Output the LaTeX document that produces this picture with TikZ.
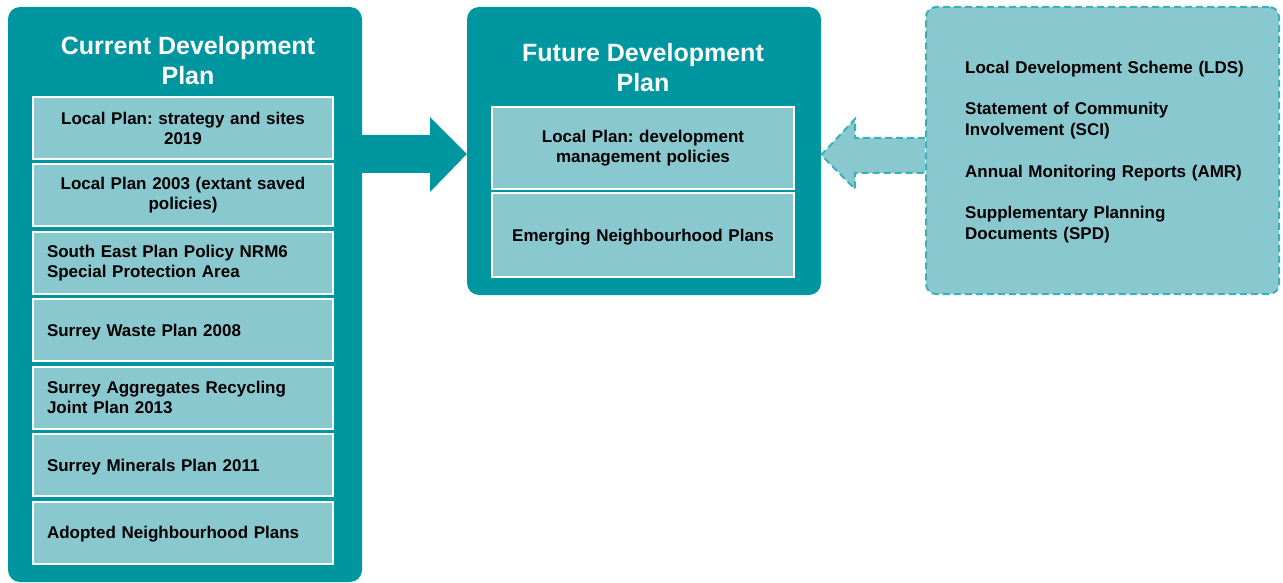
\documentclass[tikz,border=0pt]{standalone}
\usepackage{fontspec}
\setmainfont{Liberation Sans}
\frenchspacing
\definecolor{darkteal}{RGB}{0,150,160}
\definecolor{lightteal}{RGB}{138,200,207}
\definecolor{dashteal}{RGB}{60,176,186}

\begin{document}
\begin{tikzpicture}[x=1pt,y=-1pt,
  outerbox/.style={rectangle,fill=darkteal,rounded corners=12pt,inner sep=0pt},
  planbox/.style={rectangle,fill=lightteal,draw=white,line width=2pt,inner sep=0pt,font=\fontsize{17}{20}\selectfont\bfseries},
  titletext/.style={align=center,text=white,font=\fontsize{25}{30}\selectfont\bfseries},
  doctext/.style={anchor=west,align=left,text width=300pt,inner sep=0pt,font=\fontsize{17}{21}\selectfont\bfseries}]
\useasboundingbox (0,0) rectangle (1283,583);

\node[outerbox,minimum width=354pt,minimum height=575pt] (cur) at (185,294.5) {};
\node[outerbox,minimum width=354pt,minimum height=288pt] (fut) at (644,151) {};
\node[outerbox,fill=lightteal,draw=dashteal,line width=2pt,dash pattern=on 7pt off 4pt,rounded corners=10pt,minimum width=353pt,minimum height=287pt] (other) at (1102.5,150.5) {};

\node[titletext] (curtitle) at (188,61) {Current Development\\Plan};
\node[titletext] (futtitle) at (643,68) {Future Development\\Plan};

\node[planbox,minimum width=300pt,minimum height=62pt,text width=272pt,align=center] (lp) at (183,128.5) {Local Plan: strategy and sites\\2019};
\node[planbox,minimum width=300pt,minimum height=62pt,text width=272pt,align=center] (lpold) at (183,195) {Local Plan 2003 (extant saved\\policies)};
\node[planbox,minimum width=300pt,minimum height=62pt,text width=272pt,align=left] (sep) at (183,263) {South East Plan Policy NRM6\\Special Protection Area};
\node[planbox,minimum width=300pt,minimum height=62pt,text width=272pt,align=left,text depth=0pt] (waste) at (183,330) {Surrey Waste Plan 2008};
\node[planbox,minimum width=300pt,minimum height=62pt,text width=272pt,align=left] (aggr) at (183,397.5) {Surrey Aggregates Recycling\\Joint Plan 2013};
\node[planbox,minimum width=300pt,minimum height=62pt,text width=272pt,align=left,text depth=0pt] (minerals) at (183,465) {Surrey Minerals Plan 2011};
\node[planbox,minimum width=300pt,minimum height=62pt,text width=272pt,align=left,text depth=0pt] (adopted) at (183,532.5) {Adopted Neighbourhood Plans};

\node[planbox,minimum width=302pt,minimum height=82pt,text width=274pt,align=center] (dm) at (643,148) {Local Plan: development\\management policies};
\node[planbox,minimum width=302pt,minimum height=84pt,text width=274pt,align=center,text depth=0pt] (emerging) at (643,235) {Emerging Neighbourhood Plans};

\node[doctext] (lds) at (965,69) {Local Development Scheme (LDS)};
\node[doctext] (sci) at (965,120.5) {Statement of Community\\Involvement (SCI)};
\node[doctext] (amr) at (965,173) {Annual Monitoring Reports (AMR)};
\node[doctext] (spd) at (965,225) {Supplementary Planning\\Documents (SPD)};

\fill[darkteal] (cur.east |- 0,135) -- (430,135) -- (430,117) -- (fut.west |- 0,154) -- (430,192) -- (430,173) -- (cur.east |- 0,173) -- cycle;
\path[fill=lightteal,draw=dashteal,line width=2pt,dash pattern=on 7pt off 4pt] (other.west |- 0,138) -- (855,138) -- (855,119) -- (fut.east |- 0,155) -- (855,189) -- (855,173) -- (other.west |- 0,173);
\end{tikzpicture}
\end{document}
